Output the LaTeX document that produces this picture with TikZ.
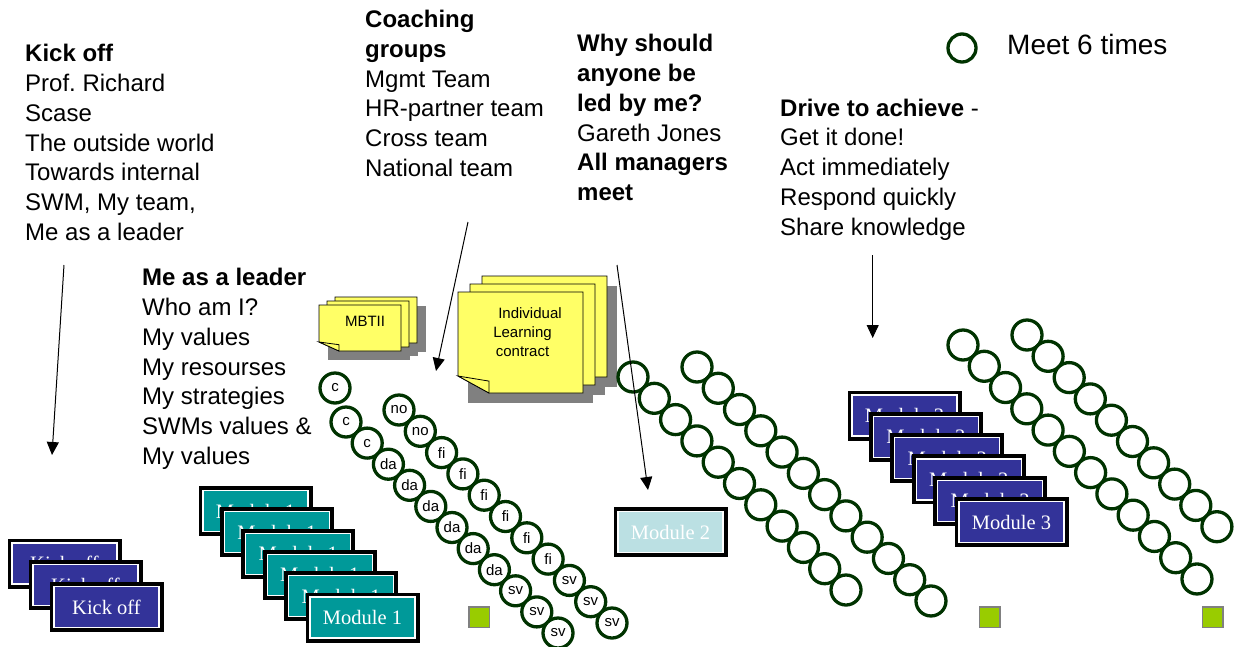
\documentclass[tikz,border=0pt]{standalone}
\usepackage{fontspec}
\setmainfont{Liberation Sans}
\newfontfamily\boxserif{Liberation Serif}
\usetikzlibrary{arrows.meta}

\definecolor{ringgreen}{RGB}{0,51,0}
\definecolor{modteal}{RGB}{0,153,153}
\definecolor{modblue}{RGB}{51,51,153}
\definecolor{modpale}{RGB}{187,224,227}
\definecolor{notey}{RGB}{255,255,102}
\definecolor{shadowgray}{RGB}{128,128,128}
\definecolor{marker}{RGB}{153,204,0}

% sticky note with a folded lower-left corner: x, y, width, height, fold w, fold h
\newcommand\stickynote[6]{%
  \filldraw[notestyle] (#1,#2) -- ++(#3,0) -- ++(0,#4) -- ++({#5-#3},0)
    -- ++({-#5},{-#6}) -- cycle;
  \filldraw[notestyle] (#1,{#2+#4-#6}) -- ++(#5,{0.3*#6}) -- ++(0,{0.7*#6}) -- cycle;}
% drop shadow of a note: x, y, width, height, offset
\newcommand\stickyshadow[5]{%
  \fill[shadowgray] ({#1+#5},{#2+#5}) rectangle ++(#3,#4);}

\begin{document}
\begin{tikzpicture}[x=1pt,y=-1pt,
  txt/.style={inner sep=0pt, anchor=base west, font=\fontsize{24}{29.8}\selectfont},
  ring/.style={circle, minimum size=30pt, inner sep=0pt, draw=ringgreen,
    line width=3.3pt, fill=white, font=\fontsize{15}{15}\selectfont},
  modbox/.style={rectangle, minimum width=105pt, minimum height=41pt, inner sep=0pt,
    fill=#1, draw=white, line width=1.2pt, preaction={draw=black, line width=9pt},
    text=white, font=\boxserif\fontsize{20.5}{24}\selectfont},
  notestyle/.style={fill=notey, draw=black, line width=0.8pt},
  notetxt/.style={inner sep=0pt, anchor=base, font=\fontsize{15}{19}\selectfont},
  markbox/.style={rectangle, minimum size=20.5pt, inner sep=0pt, fill=marker,
    draw=shadowgray, line width=1.5pt},
  arr/.style={-{Triangle[length=13pt,width=12pt]}, line width=1pt}]
\useasboundingbox (0,0) rectangle (1242,646);

% ---- text columns ----
\foreach \t [count=\i from 0] in {{\bfseries Kick off},Prof.\ Richard,Scase,
    The outside world,Towards internal,{SWM, My team,},Me as a leader}
  \node[txt] (kick\i) at (25,{61.7+29.8*\i}) {\t};
\foreach \t [count=\i from 0] in {{\bfseries Me as a leader},Who am I?,My values,
    My resourses,My strategies,SWMs values \&,My values}
  \node[txt] (lead\i) at (142,{285.7+29.8*\i}) {\t};
\foreach \t [count=\i from 0] in {{\bfseries Coaching},{\bfseries groups},Mgmt Team,
    HR-partner team,Cross team,National team}
  \node[txt] (coach\i) at (365,{27.5+29.8*\i}) {\t};
\foreach \t [count=\i from 0] in {{\bfseries Why should},{\bfseries anyone be},
    {\bfseries led by me?},Gareth Jones,{\bfseries All managers},{\bfseries meet}}
  \node[txt] (why\i) at (577,{51.7+29.8*\i}) {\t};
\foreach \t [count=\i from 0] in {{\textbf{Drive to achieve} -},Get it done!,
    Act immediately,Respond quickly,Share knowledge}
  \node[txt] (drive\i) at (780,{116+29.8*\i}) {\t};

% ---- legend ----
\node[ring, minimum size=28pt] (legend) at (962,48) {};
\node[inner sep=0pt, anchor=base west, font=\fontsize{28}{30}\selectfont]
  (legendtxt) at (1007,54) {Meet 6 times};

% ---- sticky notes ----
\stickyshadow{335}{297}{82}{46}{9}
\stickyshadow{327}{301}{82}{46}{9}
\stickyshadow{319}{305}{82}{46}{9}
\stickynote{335}{297}{82}{46}{20}{9}
\stickynote{327}{301}{82}{46}{20}{9}
\stickynote{319}{305}{82}{46}{20}{9}
\node[notetxt] (mbti) at (365,326.7) {MBTII};

\stickyshadow{482}{276}{125}{101}{10}
\stickyshadow{470}{284}{125}{101}{10}
\stickyshadow{458}{292}{125}{101}{10}
\stickynote{482}{276}{125}{101}{31}{17}
\stickynote{470}{284}{125}{101}{31}{17}
\stickynote{458}{292}{125}{101}{31}{17}
\node[notetxt] (ilc1) at (530,318) {Individual};
\node[notetxt] (ilc2) at (522.5,337) {Learning};
\node[notetxt] (ilc3) at (522.5,356) {contract};

% ---- meeting chains ----
\node[ring] (catop) at (335,388) {c};
\foreach \l [count=\i from 0] in {c,c,da,da,da,da,da,da,sv,sv,sv}
  \node[ring] (ca\i) at ({346+21.2*\i},{422+21.1*\i}) {\l};
\foreach \l [count=\i from 0] in {no,no,fi,fi,fi,fi,fi,fi,sv,sv,sv}
  \node[ring] (cb\i) at ({399+21.3*\i},{410+21.3*\i}) {\l};
\foreach \i in {0,...,10}
  \node[ring] (cc\i) at ({633+21.3*\i},{377+21.3*\i}) {};
\foreach \i in {0,...,11}
  \node[ring] (cd\i) at ({697+21.27*\i},{367+21.27*\i}) {};
\foreach \i in {0,...,11}
  \node[ring] (ce\i) at ({963+21.27*\i},{345+21.27*\i}) {};
\foreach \i in {0,...,9}
  \node[ring] (cf\i) at ({1027+21.1*\i},{335+21.3*\i}) {};

% ---- module stacks ----
\foreach \i in {0,1,2}
  \node[modbox=modblue] (ko\i) at ({64.5+21*\i},{563.5+21.75*\i}) {Kick off};
\foreach \i in {0,...,5}
  \node[modbox=modteal] (ma\i) at ({255.5+21.4*\i},{511+21.3*\i}) {Module 1};
\node[modbox=modpale] (mb) at (670.5,532) {Module 2};
\foreach \i in {0,...,5}
  \node[modbox=modblue] (mc\i) at ({904.5+21.4*\i},{415.5+21.3*\i}) {Module 3};

% ---- end markers ----
\node[markbox] (sq1) at (479,617) {};
\node[markbox] (sq2) at (989.5,617) {};
\node[markbox] (sq3) at (1212.5,617) {};

% ---- pointers ----
\coordinate (kickA) at (64,265);   \coordinate (kickB) at (52,455);
\coordinate (coachA) at (468,222); \coordinate (coachB) at (436,371);
\coordinate (whyA) at (617,265);   \coordinate (whyB) at (648,490);
\coordinate (driveA) at (872.7,255); \coordinate (driveB) at (872.7,338);
\draw[arr] (kickA) -- (kickB);
\draw[arr] (coachA) -- (coachB);
\draw[arr] (whyA) -- (whyB);
\draw[arr] (driveA) -- (driveB);
\end{tikzpicture}
\end{document}
